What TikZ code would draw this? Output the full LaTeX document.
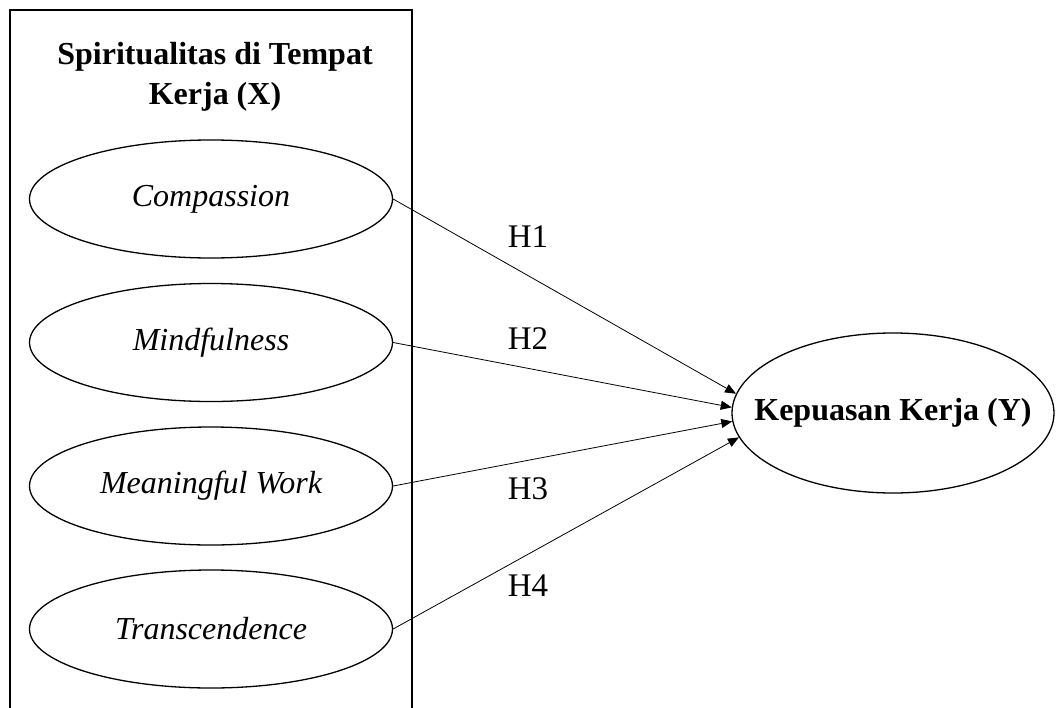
\documentclass[tikz,border=0pt]{standalone}
\usepackage{fontspec}
\setmainfont{Liberation Serif}
\usetikzlibrary{shapes.geometric,arrows.meta}
\begin{document}
\begin{tikzpicture}[x=1pt,y=-1pt,
  dim/.style={draw,ellipse,line width=1.3pt,minimum width=363pt,minimum height=118pt,inner sep=0pt,font=\fontsize{32}{38}\selectfont\itshape},
  outcome/.style={draw,ellipse,line width=1.3pt,minimum width=322pt,minimum height=160pt,inner sep=0pt,font=\fontsize{32}{38}\selectfont\bfseries},
  hyp/.style={font=\fontsize{33}{38}\selectfont,inner sep=0pt},
  path/.style={line width=0.8pt,-{Triangle[length=11pt,width=9pt]}}]
\useasboundingbox (0,0) rectangle (1060,707);
\fill[white] (0,0) rectangle (1060,707);
\draw[line width=1.2pt] (10,709) -- (10,10) -- (412,10) -- (412,709);
\node[align=center,font=\fontsize{32}{40}\selectfont\bfseries,inner sep=0pt] (title) at (215,77) {Spiritualitas di Tempat\\Kerja (X)};
\node[dim] (c1) at (211,199) {\makebox[0pt]{Compassion}};
\node[dim] (c2) at (211,342.5) {\makebox[0pt]{Mindfulness}};
\node[dim] (c3) at (211,486) {\makebox[0pt]{Meaningful Work}};
\node[dim] (c4) at (211,629) {\makebox[0pt]{Transcendence}};
\node[outcome] (Y) at (893,413) {\makebox[0pt]{Kepuasan Kerja (Y)}};
\draw[path] (c1.east) -- (Y.173);
\draw[path] (c2.east) -- (Y.178);
\draw[path] (c3.east) -- (Y.183);
\draw[path] (c4.east) -- (Y.189);
\node[hyp] (h1) at (528,237) {H1};
\node[hyp] (h2) at (528,339) {H2};
\node[hyp] (h3) at (528,489) {H3};
\node[hyp] (h4) at (528,586) {H4};
\end{tikzpicture}
\end{document}
